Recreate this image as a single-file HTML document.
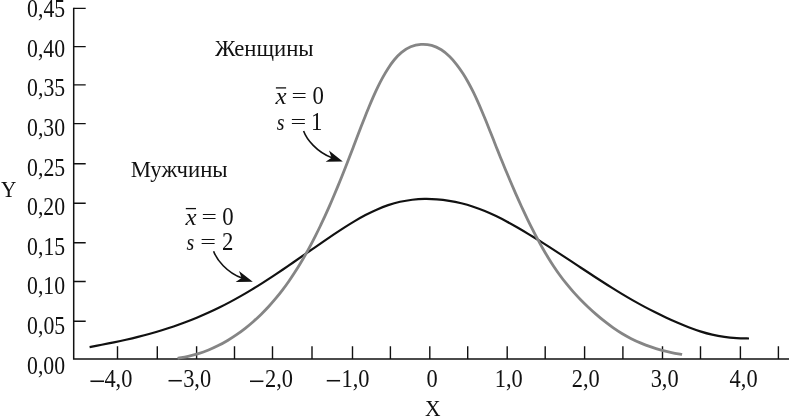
<!DOCTYPE html>
<html lang="ru"><head><meta charset="utf-8"><title>Нормальное распределение</title>
<style>html,body{margin:0;padding:0;background:#fff}body{width:790px;height:416px;overflow:hidden}svg{display:block}</style>
</head><body>
<svg width="790" height="416" viewBox="0 0 790 416">
<rect width="790" height="416" fill="#ffffff"/>
<g fill="none" stroke="#111111">
<path stroke-width="1.5" d="M73.70,7.70 V358.95 H789"/>
<path stroke-width="1.4" d="M73.70,8.40 H85.7 M73.70,46.65 H85.7 M73.70,84.90 H85.7 M73.70,123.60 H85.7 M73.70,163.80 H85.7 M73.70,203.30 H85.7 M73.70,242.80 H85.7 M73.70,281.50 H85.7 M73.70,321.20 H85.7 M117.50,358.95 V346.3 M157.30,358.95 V346.3 M196.60,358.95 V346.3 M234.50,358.95 V346.3 M272.50,358.95 V346.3 M312.00,358.95 V346.3 M352.50,358.95 V346.3 M390.40,358.95 V346.3 M429.80,358.95 V346.3 M467.70,358.95 V346.3 M507.20,358.95 V346.3 M545.20,358.95 V346.3 M584.60,358.95 V346.3 M622.90,358.95 V346.3 M662.50,358.95 V346.3 M700.50,358.95 V346.3 M740.40,358.95 V346.3 M778.40,358.95 V346.3"/>
</g>
<path d="M89.60,347.14 C91.62,346.74 97.70,345.57 101.74,344.77 C105.79,343.97 109.83,343.17 113.87,342.33 C117.90,341.49 121.94,340.63 125.96,339.72 C129.98,338.81 133.99,337.87 137.99,336.87 C141.99,335.86 145.98,334.82 149.95,333.72 C153.93,332.61 157.89,331.46 161.83,330.25 C165.77,329.03 169.69,327.77 173.59,326.43 C177.50,325.10 181.38,323.71 185.24,322.26 C189.10,320.81 192.93,319.30 196.74,317.72 C200.55,316.14 204.34,314.51 208.09,312.81 C211.85,311.11 215.58,309.34 219.28,307.52 C222.98,305.70 226.64,303.81 230.28,301.87 C233.92,299.93 237.52,297.93 241.10,295.88 C244.68,293.83 248.23,291.73 251.75,289.59 C255.28,287.46 258.78,285.27 262.26,283.07 C265.74,280.86 269.20,278.61 272.65,276.35 C276.09,274.08 279.52,271.79 282.93,269.48 C286.35,267.17 289.75,264.84 293.15,262.50 C296.54,260.16 299.93,257.81 303.32,255.46 C306.70,253.11 310.08,250.75 313.47,248.40 C316.86,246.05 320.25,243.70 323.65,241.37 C327.05,239.03 330.45,236.70 333.87,234.41 C337.30,232.11 340.73,229.82 344.20,227.60 C347.67,225.38 351.16,223.17 354.71,221.08 C358.26,218.98 361.84,216.92 365.49,215.02 C369.15,213.11 372.85,211.28 376.63,209.64 C380.41,208.00 384.25,206.47 388.16,205.16 C392.06,203.86 396.04,202.70 400.05,201.80 C404.07,200.89 408.15,200.20 412.24,199.72 C416.33,199.24 420.46,198.99 424.58,198.93 C428.70,198.86 432.83,199.00 436.94,199.31 C441.05,199.62 445.15,200.13 449.22,200.80 C453.28,201.46 457.33,202.31 461.33,203.30 C465.32,204.29 469.29,205.45 473.20,206.74 C477.11,208.04 480.98,209.49 484.80,211.05 C488.61,212.61 492.36,214.33 496.08,216.11 C499.80,217.89 503.46,219.80 507.09,221.75 C510.73,223.69 514.31,225.72 517.89,227.78 C521.46,229.84 525.00,231.95 528.53,234.08 C532.06,236.21 535.57,238.37 539.07,240.55 C542.57,242.73 546.06,244.94 549.53,247.16 C553.01,249.38 556.47,251.62 559.92,253.87 C563.38,256.11 566.83,258.38 570.27,260.64 C573.72,262.91 577.15,265.19 580.59,267.46 C584.03,269.74 587.47,272.02 590.91,274.28 C594.36,276.54 597.81,278.81 601.27,281.04 C604.73,283.28 608.20,285.51 611.70,287.69 C615.19,289.88 618.70,292.05 622.24,294.17 C625.77,296.29 629.33,298.38 632.92,300.41 C636.50,302.45 640.11,304.44 643.75,306.38 C647.39,308.32 651.05,310.22 654.74,312.06 C658.42,313.91 662.14,315.71 665.87,317.45 C669.61,319.19 673.36,320.90 677.15,322.53 C680.94,324.16 684.74,325.76 688.59,327.23 C692.44,328.70 696.32,330.12 700.25,331.36 C704.18,332.60 708.15,333.74 712.16,334.66 C716.18,335.58 720.25,336.31 724.33,336.88 C728.41,337.44 732.53,337.79 736.64,338.06 C740.75,338.34 746.94,338.44 749.00,338.51" fill="none" stroke="#111111" stroke-width="2.2"/>
<path d="M177.60,358.32 C179.35,357.98 184.62,357.05 188.10,356.27 C191.57,355.49 195.05,354.65 198.45,353.61 C201.86,352.58 205.23,351.38 208.53,350.05 C211.83,348.72 215.08,347.21 218.26,345.61 C221.44,344.01 224.56,342.27 227.62,340.45 C230.68,338.62 233.68,336.68 236.61,334.66 C239.55,332.65 242.42,330.53 245.23,328.33 C248.04,326.14 250.78,323.85 253.45,321.49 C256.13,319.14 258.73,316.70 261.28,314.21 C263.82,311.71 266.30,309.14 268.71,306.52 C271.12,303.90 273.47,301.21 275.75,298.47 C278.03,295.73 280.25,292.94 282.41,290.10 C284.57,287.27 286.66,284.38 288.70,281.46 C290.74,278.54 292.72,275.57 294.66,272.57 C296.59,269.58 298.47,266.55 300.30,263.49 C302.14,260.44 303.93,257.35 305.68,254.25 C307.43,251.14 309.13,248.01 310.80,244.86 C312.48,241.71 314.11,238.54 315.71,235.36 C317.31,232.18 318.88,228.97 320.42,225.76 C321.95,222.54 323.46,219.31 324.94,216.07 C326.43,212.83 327.88,209.57 329.32,206.31 C330.75,203.05 332.17,199.77 333.56,196.49 C334.96,193.21 336.34,189.92 337.70,186.63 C339.06,183.34 340.40,180.03 341.74,176.73 C343.07,173.42 344.39,170.11 345.70,166.79 C347.00,163.48 348.30,160.16 349.58,156.83 C350.87,153.51 352.14,150.18 353.41,146.85 C354.69,143.52 355.95,140.18 357.22,136.85 C358.50,133.52 359.77,130.19 361.05,126.87 C362.34,123.54 363.63,120.22 364.95,116.91 C366.27,113.60 367.60,110.29 368.96,107.00 C370.33,103.70 371.71,100.42 373.16,97.16 C374.61,93.90 376.08,90.65 377.64,87.45 C379.19,84.24 380.79,81.05 382.51,77.93 C384.22,74.80 385.98,71.69 387.92,68.71 C389.86,65.72 391.85,62.73 394.13,60.01 C396.41,57.28 398.83,54.57 401.58,52.36 C404.33,50.15 407.40,48.08 410.64,46.75 C413.88,45.42 417.52,44.61 421.01,44.38 C424.51,44.15 428.23,44.49 431.62,45.39 C435.00,46.28 438.34,47.89 441.33,49.75 C444.33,51.60 447.03,54.06 449.58,56.53 C452.13,59.00 454.43,61.76 456.64,64.55 C458.84,67.34 460.87,70.30 462.81,73.28 C464.75,76.27 466.55,79.35 468.29,82.46 C470.03,85.57 471.66,88.75 473.23,91.94 C474.81,95.14 476.30,98.38 477.76,101.63 C479.23,104.88 480.63,108.16 482.02,111.44 C483.41,114.73 484.76,118.03 486.10,121.33 C487.44,124.63 488.76,127.94 490.08,131.25 C491.40,134.56 492.71,137.88 494.02,141.20 C495.33,144.51 496.64,147.83 497.96,151.14 C499.29,154.45 500.61,157.76 501.96,161.06 C503.30,164.36 504.65,167.66 506.02,170.95 C507.39,174.24 508.76,177.53 510.16,180.81 C511.55,184.09 512.96,187.37 514.39,190.63 C515.81,193.90 517.25,197.16 518.72,200.41 C520.18,203.66 521.66,206.91 523.17,210.14 C524.68,213.37 526.21,216.59 527.76,219.79 C529.32,223.00 530.90,226.19 532.52,229.37 C534.14,232.55 535.78,235.71 537.47,238.85 C539.16,241.99 540.87,245.12 542.64,248.21 C544.40,251.31 546.20,254.39 548.06,257.43 C549.92,260.47 551.82,263.49 553.79,266.46 C555.76,269.43 557.78,272.37 559.88,275.25 C561.98,278.13 564.15,280.96 566.39,283.74 C568.62,286.51 570.94,289.23 573.31,291.88 C575.68,294.54 578.13,297.14 580.63,299.68 C583.12,302.23 585.68,304.71 588.27,307.16 C590.87,309.60 593.50,312.01 596.19,314.35 C598.88,316.69 601.61,318.99 604.40,321.20 C607.19,323.41 610.04,325.57 612.95,327.62 C615.87,329.66 618.85,331.63 621.91,333.46 C624.96,335.30 628.08,337.03 631.26,338.64 C634.44,340.25 637.69,341.74 640.97,343.12 C644.25,344.50 647.60,345.76 650.96,346.92 C654.33,348.09 657.74,349.15 661.17,350.10 C664.61,351.05 668.08,351.89 671.57,352.61 C675.05,353.34 680.34,354.14 682.10,354.45" fill="none" stroke="#858585" stroke-width="2.8"/>
<g transform="translate(0.00,0.00)"><path d="M303.6,131 C306.6,139.3 316.8,152.2 332,157.8" fill="none" stroke="#111111" stroke-width="1.6"/><path d="M342.8,161.5 L329.0,150.6 L331.6,157.7 L325.6,161.8 Z" fill="#111111"/></g>
<g transform="translate(-90.00,120.30)"><path d="M303.6,131 C306.6,139.3 316.8,152.2 332,157.8" fill="none" stroke="#111111" stroke-width="1.6"/><path d="M342.8,161.5 L329.0,150.6 L331.6,157.7 L325.6,161.8 Z" fill="#111111"/></g>
<g font-family="'Liberation Serif', 'DejaVu Serif', serif" fill="#111111">
<g font-size="24.70" transform="scale(0.8803,1)">
<text x="30.78" y="17.00">0,45</text>
<text x="30.75" y="56.80">0,40</text>
<text x="30.78" y="96.50">0,35</text>
<text x="30.75" y="136.20">0,30</text>
<text x="30.78" y="175.90">0,25</text>
<text x="30.75" y="215.50">0,20</text>
<text x="30.78" y="254.90">0,15</text>
<text x="30.75" y="294.40">0,10</text>
<text x="30.78" y="334.20">0,05</text>
<text x="30.75" y="373.70">0,00</text>
</g>
<g font-size="24.70" transform="scale(0.9069,1)">
<text y="387.30"><tspan x="97.74" dy="4.41" font-size="32.25">−</tspan><tspan x="115.12" dy="-4.41">4,0</tspan></text>
<text y="387.30"><tspan x="184.44" dy="4.17" font-size="31.54">−</tspan><tspan x="201.94" dy="-4.17">3,0</tspan></text>
<text y="387.30"><tspan x="274.41" dy="4.25" font-size="31.78">−</tspan><tspan x="292.25" dy="-4.25">2,0</tspan></text>
<text y="387.30"><tspan x="359.00" dy="4.17" font-size="31.54">−</tspan><tspan x="376.55" dy="-4.17">1,0</tspan></text>
<text x="470.35" y="387.30">0</text>
<text x="545.59" y="387.30">1,0</text>
<text x="630.38" y="387.30">2,0</text>
<text x="717.44" y="387.30">3,0</text>
<text x="804.52" y="387.30">4,0</text>
</g>
<text font-size="22.90" transform="translate(1.07,196.90) scale(0.9294,1)">Y</text>
<text font-size="22.90" transform="translate(425.03,415.60) scale(0.9412,1)">X</text>
<text font-size="23.00" transform="translate(214.90,55.50) scale(0.9909,1)">Женщины</text>
<text font-size="23.00" transform="translate(130.64,177.30) scale(0.9896,1)">Мужчины</text>
<g font-size="24.70" transform="translate(0.00,0.00) scale(0.9231,1)"><text y="104.00"><tspan x="298.57" font-style="italic" font-size="22.50" textLength="11.99" lengthAdjust="spacingAndGlyphs">x</tspan> <tspan x="315.83" font-size="18.50" dy="-1.80" textLength="16.69" lengthAdjust="spacingAndGlyphs">=</tspan> <tspan x="338.43" dy="1.80">0</tspan></text><text y="129.60"><tspan x="299.72" font-style="italic" font-size="22.50" textLength="8.38" lengthAdjust="spacingAndGlyphs">s</tspan> <tspan x="314.60" font-size="18.50" dy="-1.80" textLength="17.08" lengthAdjust="spacingAndGlyphs">=</tspan> <tspan x="336.90" dy="1.80">1</tspan></text></g><path d="M275.90,87.90 H286.10" stroke="#111111" stroke-width="1.3" fill="none"/>
<g font-size="24.70" transform="translate(-90.10,120.70) scale(0.9231,1)"><text y="104.00"><tspan x="298.57" font-style="italic" font-size="22.50" textLength="11.99" lengthAdjust="spacingAndGlyphs">x</tspan> <tspan x="315.83" font-size="18.50" dy="-1.80" textLength="16.69" lengthAdjust="spacingAndGlyphs">=</tspan> <tspan x="338.43" dy="1.80">0</tspan></text><text y="129.60"><tspan x="299.72" font-style="italic" font-size="22.50" textLength="8.38" lengthAdjust="spacingAndGlyphs">s</tspan> <tspan x="314.60" font-size="18.50" dy="-1.80" textLength="17.08" lengthAdjust="spacingAndGlyphs">=</tspan> <tspan x="337.97" dy="1.80">2</tspan></text></g><path d="M185.80,208.60 H196.00" stroke="#111111" stroke-width="1.3" fill="none"/>
</g>
</svg>
</body></html>
